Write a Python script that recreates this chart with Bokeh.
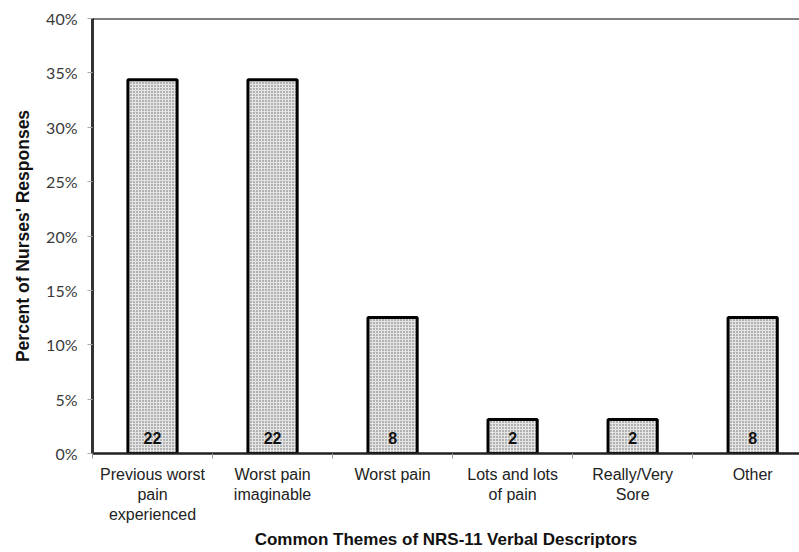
from bokeh.plotting import figure
from bokeh.models import FixedTicker, Span, Range1d, NumeralTickFormatter, ColumnDataSource
from bokeh.core.properties import value
from bokeh.embed import file_html
from bokeh.resources import INLINE

categories = ["Previous worst\npain\nexperienced", "Worst pain\nimaginable", "Worst pain",
              "Lots and lots\nof pain", "Really/Very\nSore", "Other"]
counts = [22, 22, 8, 2, 2, 8]
total = 64
percents = [c / total for c in counts]
y_ticks = [0, 0.05, 0.10, 0.15, 0.20, 0.25, 0.30, 0.35, 0.40]
x_title = "Common Themes of NRS-11 Verbal Descriptors"
y_title = "Percent of Nurses' Responses"

xs = [i + 0.5 for i in range(len(categories))]
src = ColumnDataSource(dict(x=xs, top=percents, n=[str(c) for c in counts]))

p = figure(width=799, height=552, output_backend="svg", toolbar_location=None,
           x_range=Range1d(0, 5.89), y_range=Range1d(0, 0.40),
           min_border_left=92, min_border_right=0, min_border_top=18, min_border_bottom=99)
p.outline_line_color = None
p.grid.grid_line_color = None
p.background_fill_color = "white"

p.vbar(x="x", top="top", width=0.41, source=src, fill_color="#e4e4e4",
       hatch_pattern="dot", hatch_color="#666666", hatch_scale=3, hatch_weight=1,
       line_color="black", line_width=3)

p.text(x="x", y=0.0147, text="n", source=src, text_align="center", text_baseline="middle",
       text_font=value("Liberation Sans"), text_font_style="bold", text_font_size="16px",
       text_color="#111111")

top_line = Span(location=0.40, dimension="width", line_color="black", line_width=2)
p.add_layout(top_line)

# X axis
p.xaxis.ticker = FixedTicker(ticks=xs, minor_ticks=[0, 1, 2, 3, 4, 5])
p.xaxis.major_label_overrides = {x: c for x, c in zip(xs, categories)}
p.xaxis.major_tick_line_color = None
p.xaxis.major_tick_out = 0
p.xaxis.major_tick_in = 0
p.xaxis.minor_tick_out = 5
p.xaxis.minor_tick_in = 0
p.xaxis.minor_tick_line_color = "#999999"
p.xaxis.axis_line_color = "#222222"
p.xaxis.axis_line_width = 2.5
p.xaxis.major_label_text_font = "Liberation Sans"
p.xaxis.major_label_text_font_size = "16px"
p.xaxis.major_label_text_color = "#222222"
p.xaxis.major_label_standoff = 7
p.xaxis.axis_label = x_title
p.xaxis.axis_label_text_font = "Liberation Sans"
p.xaxis.axis_label_text_font_style = "bold"
p.xaxis.axis_label_text_font_size = "17px"
p.xaxis.axis_label_text_color = "#111111"
p.xaxis.axis_label_standoff = 4

# Y axis
p.yaxis.ticker = FixedTicker(ticks=y_ticks, minor_ticks=[])
p.yaxis.formatter = NumeralTickFormatter(format="0%")
p.yaxis.major_tick_out = 5
p.yaxis.major_tick_in = 0
p.yaxis.major_tick_line_color = "#aaaaaa"
p.yaxis.axis_line_color = "#333333"
p.yaxis.axis_line_width = 3
p.yaxis.major_label_text_font = "Lato"
p.yaxis.major_label_text_font_size = "16px"
p.yaxis.major_label_text_color = "#3a3a3a"
p.yaxis.major_label_standoff = 10
p.yaxis.axis_label = y_title
p.yaxis.axis_label_text_font = "Liberation Sans"
p.yaxis.axis_label_text_font_style = "bold"
p.yaxis.axis_label_text_font_size = "17.5px"
p.yaxis.axis_label_text_color = "#111111"
p.yaxis.axis_label_standoff = 10

open("out.html", "w").write(file_html(p, INLINE))
